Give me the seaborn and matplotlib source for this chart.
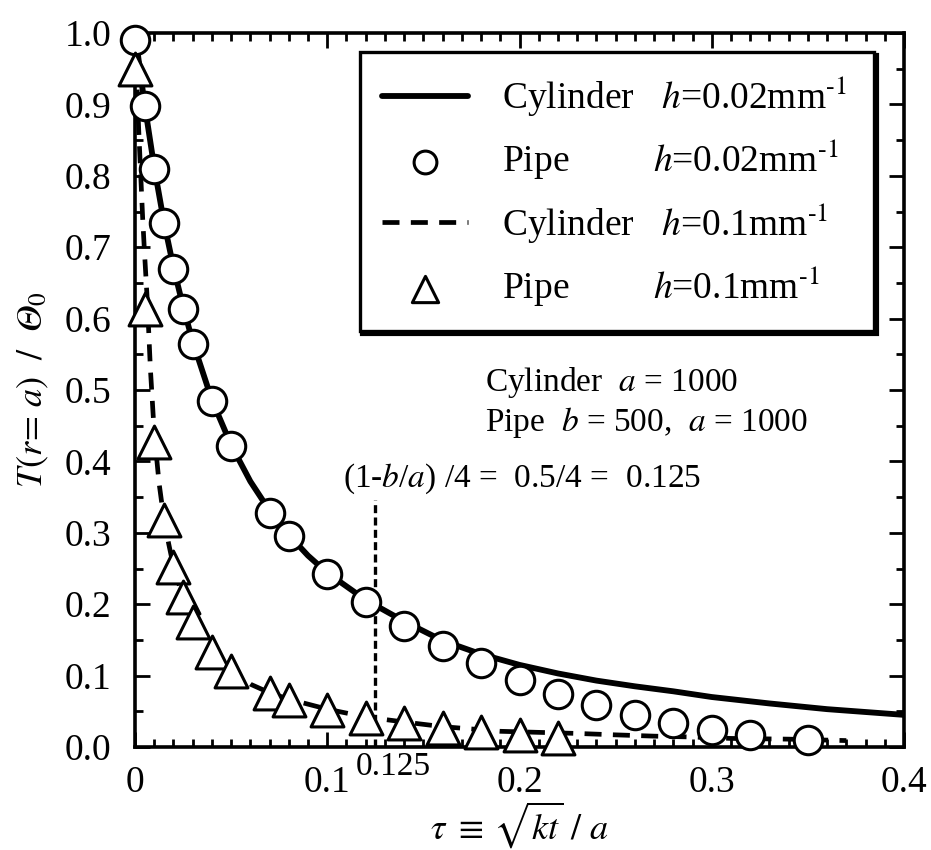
import numpy as np
import matplotlib
matplotlib.use("Agg")
import matplotlib.pyplot as plt
import seaborn as sns

# ---- data ----
tau_cyl1 = [0, 0.005, 0.01, 0.015, 0.02, 0.025, 0.03, 0.04, 0.05, 0.06, 0.07, 0.08, 0.09,
            0.10, 0.12, 0.14, 0.16, 0.18, 0.20, 0.22, 0.24, 0.26, 0.28, 0.30, 0.33, 0.36, 0.40]
T_cyl1 = [1.0, 0.90, 0.812, 0.736, 0.672, 0.617, 0.568, 0.486, 0.423, 0.372, 0.331, 0.297, 0.268,
          0.244, 0.206, 0.176, 0.149, 0.130, 0.115, 0.103, 0.093, 0.085, 0.078, 0.070, 0.061, 0.053, 0.045]

tau_pipe1 = [0, 0.005, 0.01, 0.015, 0.02, 0.025, 0.03, 0.04, 0.05, 0.07, 0.08, 0.10, 0.12,
             0.14, 0.16, 0.18, 0.20, 0.22, 0.24, 0.26, 0.28, 0.30, 0.32, 0.35]
T_pipe1 = [0.99, 0.898, 0.81, 0.734, 0.669, 0.614, 0.565, 0.484, 0.421, 0.328, 0.295, 0.242, 0.2035,
           0.1695, 0.1415, 0.117, 0.0945, 0.0745, 0.0588, 0.0448, 0.034, 0.0238, 0.0168, 0.0098]

tau_cyl2 = [0, 0.001, 0.002, 0.003, 0.004, 0.005, 0.0065, 0.008, 0.01, 0.0125, 0.015, 0.0175, 0.02,
            0.025, 0.03, 0.04, 0.05, 0.06, 0.07, 0.08, 0.10, 0.12, 0.14, 0.16, 0.19, 0.23, 0.25,
            0.27, 0.29, 0.31, 0.34, 0.37]
T_cyl2 = [1.0, 0.93, 0.86, 0.80, 0.74, 0.69, 0.62, 0.53, 0.44, 0.37, 0.32, 0.285, 0.253,
          0.209, 0.176, 0.134, 0.107, 0.088, 0.076, 0.067, 0.053, 0.042, 0.035, 0.0285, 0.022, 0.019, 0.017,
          0.0152, 0.014, 0.012, 0.011, 0.009]

tau_pipe2 = [0, 0.005, 0.01, 0.015, 0.02, 0.025, 0.03, 0.04, 0.05, 0.07, 0.08, 0.10, 0.12,
             0.14, 0.16, 0.18, 0.20, 0.22]
T_pipe2 = [0.95, 0.614, 0.427, 0.318, 0.2525, 0.21, 0.1755, 0.1335, 0.106, 0.075, 0.066, 0.052, 0.040,
           0.033, 0.0266, 0.0215, 0.0168, 0.013]

x_ticks = [0, 0.1, 0.2, 0.3, 0.4]
x_ticklabels = ["0", "0.1", "0.2", "0.3", "0.4"]
y_ticks = [0.0, 0.1, 0.2, 0.3, 0.4, 0.5, 0.6, 0.7, 0.8, 0.9, 1.0]
y_ticklabels = ["0.0", "0.1", "0.2", "0.3", "0.4", "0.5", "0.6", "0.7", "0.8", "0.9", "1.0"]
tau_mark = 0.125
mark_top = 0.346

labels = ["Cylinder   $h$=0.02mm$^{\u2010 1}$ ",
          "Pipe         $h$=0.02mm$^{\u2010 1}$ ",
          "Cylinder   $h$=0.1mm$^{\u2010 1}$ ",
          "Pipe         $h$=0.1mm$^{\u2010 1}$ "]

# ---- style ----
sns.set_style("ticks")
plt.rcParams["font.family"] = ["Liberation Serif", "DejaVu Serif"]
plt.rcParams["mathtext.fontset"] = "stix"
for k in ["text.color", "axes.labelcolor", "xtick.color", "ytick.color", "axes.edgecolor"]:
    plt.rcParams[k] = "black"

fig = plt.figure(figsize=(9.31, 8.5), dpi=100)
ax = fig.add_axes([135 / 931, 1 - 747 / 850, (904 - 135) / 931, (747 - 33) / 850])

sns.lineplot(x=tau_cyl1, y=T_cyl1, ax=ax, color="black", lw=4.2, label=labels[0],
             estimator=None, sort=False, zorder=2)
sns.lineplot(x=tau_cyl2, y=T_cyl2, ax=ax, color="black", lw=3.4, label=labels[2],
             estimator=None, sort=False, zorder=2)
ax.lines[-1].set_dashes([3.6, 2.4])

sns.scatterplot(x=tau_pipe1, y=T_pipe1, ax=ax, marker="o", s=420, facecolor="white",
                edgecolor="black", linewidth=2.2, label=labels[1], zorder=5, clip_on=False)
sns.scatterplot(x=tau_pipe2, y=T_pipe2, ax=ax, marker="^", s=560, facecolor="white",
                edgecolor="black", linewidth=2.2, label=labels[3], zorder=5, clip_on=False)

ax.plot([tau_mark, tau_mark], [0, mark_top], color="black", lw=2.4, dashes=[2.4, 1.3], zorder=1)

ax.set_xlim(0, 0.4)
ax.set_ylim(0, 1.0)
ax.set_xticks(x_ticks)
ax.set_xticklabels(x_ticklabels)
ax.set_yticks(y_ticks)
ax.set_yticklabels(y_ticklabels)
ax.set_xticks(np.arange(0, 0.4001, 0.01), minor=True)
ax.set_yticks(np.arange(0, 1.0001, 0.05), minor=True)
ax.tick_params(which="both", direction="in", top=True, right=True, width=2.0, color="black")
ax.tick_params(which="major", length=10.5, labelsize=27)
ax.tick_params(which="minor", length=5.5)
ax.tick_params(axis="x", which="major", pad=13)
ax.tick_params(axis="y", which="major", pad=17)
for sp in ax.spines.values():
    sp.set_linewidth(2.6)
    sp.set_color("black")

ax.set_xlabel(r"$\tau\ \equiv\,\sqrt{kt}\ /\ a$", fontsize=26, labelpad=0)
ax.set_ylabel("$T(r\\!=\\,a)\\ \\ /\\ \\ \U0001D6E9_0$", fontsize=26, labelpad=10)

ax.text(0.1345, -0.028, "0.125", fontsize=24, ha="center", va="center", clip_on=False)
ax.text(0.182, 0.51, "Cylinder  $a$ = 1000", fontsize=24, ha="left", va="center")
ax.text(0.182, 0.455, "Pipe  $b$ = 500,  $a$ = 1000", fontsize=24, ha="left", va="center")
ax.text(0.108, 0.376, "(1-$b$/$a$) /4 =  0.5/4 =  0.125", fontsize=24, ha="left", va="center")

handles, labs = ax.get_legend_handles_labels()
order = [labs.index(l) for l in labels]
leg = ax.legend([handles[i] for i in order], [labs[i] for i in order],
                loc="upper right", bbox_to_anchor=(874 / 931, 1 - 52 / 850),
                bbox_transform=fig.transFigure, borderaxespad=0, fontsize=27,
                frameon=True, fancybox=False, edgecolor="black", facecolor="white",
                framealpha=1, shadow={"facecolor": "black", "edgecolor": "black", "alpha": 1, "linewidth": 3},
                handlelength=2.3, handletextpad=0.9, labelspacing=0.5, borderpad=0.6,
                markerscale=0.8)
leg.get_frame().set_linewidth(2.4)

fig.savefig("out.png", dpi=100)
